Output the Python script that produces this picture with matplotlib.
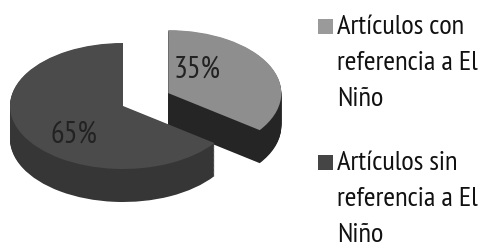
import matplotlib.pyplot as plt
from matplotlib.patches import Rectangle
import numpy as np

# datos
labels = ['Artículos con\nreferencia a El\nNiño', 'Artículos sin\nreferencia a El\nNiño']
values = [35, 65]
top_colors = ['#8e8e8e', '#4b4b4b']
side_colors = ['#252525', '#363636']
legend_colors = ['#9a9a9a', '#454545']
explode = [0.45, 0.0]

plt.rcParams['font.family'] = ['PT Sans Narrow', 'DejaVu Sans']

W, H = 480, 249
fig = plt.figure(figsize=(W / 100, H / 100), dpi=100)
ax = fig.add_axes([0, 0, 1, 1])

# elipse: centro (123,106) px, radios 113 x 63 px
cx, cy, rx, ry = 123, 106, 113, 63
depth = 33 / ry

# cara lateral: apilar copias desplazadas hacia abajo
for d in np.linspace(depth, 0.01, 40):
    ax.pie(values, colors=side_colors, startangle=90, counterclock=False,
           explode=explode, center=(0, -d), radius=1,
           wedgeprops=dict(linewidth=0))

wedges, texts = ax.pie(values, colors=top_colors, startangle=90, counterclock=False,
                       explode=explode, center=(0, 0), radius=1,
                       wedgeprops=dict(linewidth=0))

ax.set_aspect('auto')
ax.set_xlim(-cx / rx, (W - cx) / rx)
ax.set_ylim(-(H - cy) / ry, cy / ry)
ax.axis('off')

# etiquetas de porcentaje
ax.text((197 - cx) / rx, (cy - 70) / ry, '35%', fontsize=22, color='#222222',
        ha='center', va='center')
ax.text((74 - cx) / rx, (cy - 135) / ry, '65%', fontsize=22, color='#222222',
        ha='center', va='center')

# leyenda
for i, (lab, col) in enumerate(zip(labels, legend_colors)):
    y0 = 1 - (19 + i * 136) / H
    fig.patches.append(Rectangle((318 / W, y0 - 15 / H), 15 / W, 15 / H,
                                 transform=fig.transFigure, facecolor=col,
                                 edgecolor='none'))
    fig.text(337 / W, 1 - (15 + i * 136) / H, lab, fontsize=20.5, color='#111111',
             ha='left', va='top', linespacing=1.62)

fig.savefig('out.png', dpi=100)
